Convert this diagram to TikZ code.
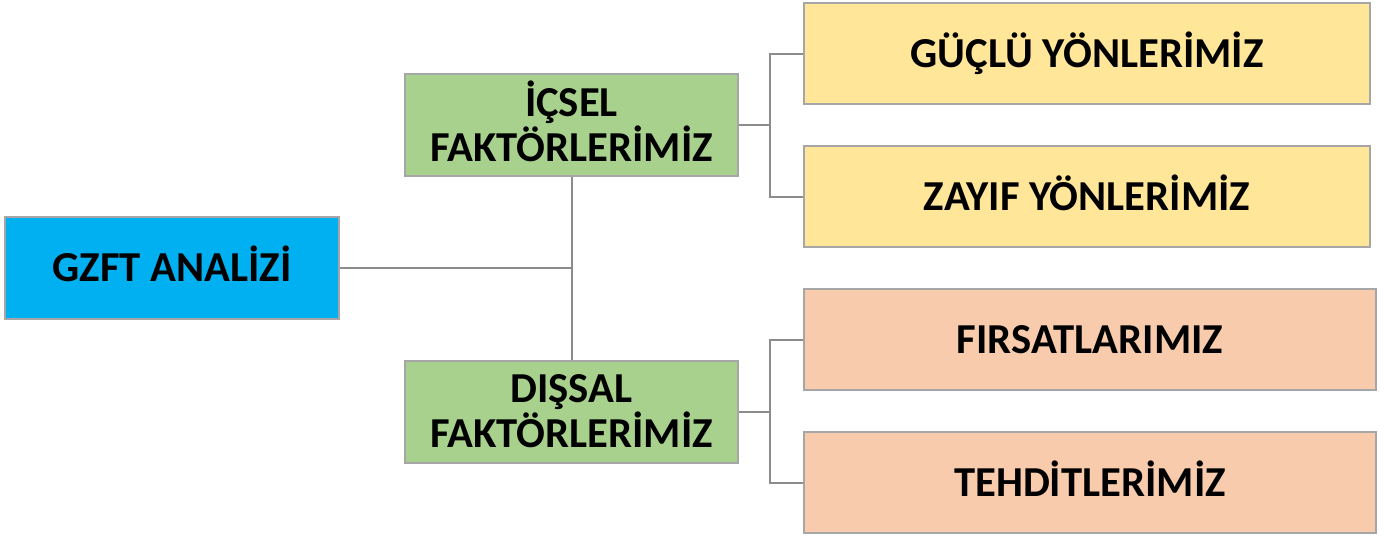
\documentclass[tikz,border=0pt]{standalone}
\usepackage{fontspec}
\setmainfont{Carlito}
\definecolor{bordergray}{HTML}{A6A6A6}
\definecolor{linegray}{HTML}{8C8C8C}
\definecolor{boxblue}{HTML}{00B0F0}
\definecolor{boxgreen}{HTML}{A9D18E}
\definecolor{boxyellow}{HTML}{FFE699}
\definecolor{boxpeach}{HTML}{F8CBAD}
\begin{document}
\begin{tikzpicture}[x=0.75pt,y=-0.75pt,
  box/.style={draw=bordergray, line width=1.5pt, inner sep=0pt, align=center,
    font=\fontsize{32}{34}\selectfont\bfseries, text height=20.6pt, text depth=0pt},
  twoline/.style={text height=54.6pt, text depth=0pt},
  conn/.style={draw=linegray, line width=1.5pt}]
\useasboundingbox (0,0) rectangle (1394,537);
\node[box, fill=boxblue, minimum width=250.5pt, minimum height=76.5pt] (gzft) at (172,268) {GZFT ANALİZİ};
\node[box, twoline, fill=boxgreen, minimum width=249.75pt, minimum height=76.5pt] (icsel) at (571.5,125) {İÇSEL\\FAKTÖRLERİMİZ};
\node[box, twoline, fill=boxgreen, minimum width=249.75pt, minimum height=76.5pt] (dissal) at (571.5,411.5) {DIŞSAL\\FAKTÖRLERİMİZ};
\node[box, fill=boxyellow, minimum width=424.5pt, minimum height=75.75pt] (guclu) at (1087,53.5) {GÜÇLÜ YÖNLERİMİZ};
\node[box, fill=boxyellow, minimum width=424.5pt, minimum height=75.75pt] (zayif) at (1087,196.5) {ZAYIF YÖNLERİMİZ};
\node[box, fill=boxpeach, minimum width=429pt, minimum height=75.75pt] (firsat) at (1090,339.5) {FIRSATLARIMIZ};
\node[box, fill=boxpeach, minimum width=429pt, minimum height=75.75pt] (tehdit) at (1090,482.5) {TEHDİTLERİMİZ};
\coordinate (j0) at (571.5,268);
\coordinate (j1) at (770,125);
\coordinate (j2) at (770,411.5);
\draw[conn] (gzft.east) -- (j0);
\draw[conn] (icsel.south) -- (dissal.north);
\draw[conn] (icsel.east) -- (j1);
\draw[conn] (j1) |- (guclu.west);
\draw[conn] (j1) |- (zayif.west);
\draw[conn] (dissal.east) -- (j2);
\draw[conn] (j2) |- (firsat.west);
\draw[conn] (j2) |- (tehdit.west);
\end{tikzpicture}
\end{document}
